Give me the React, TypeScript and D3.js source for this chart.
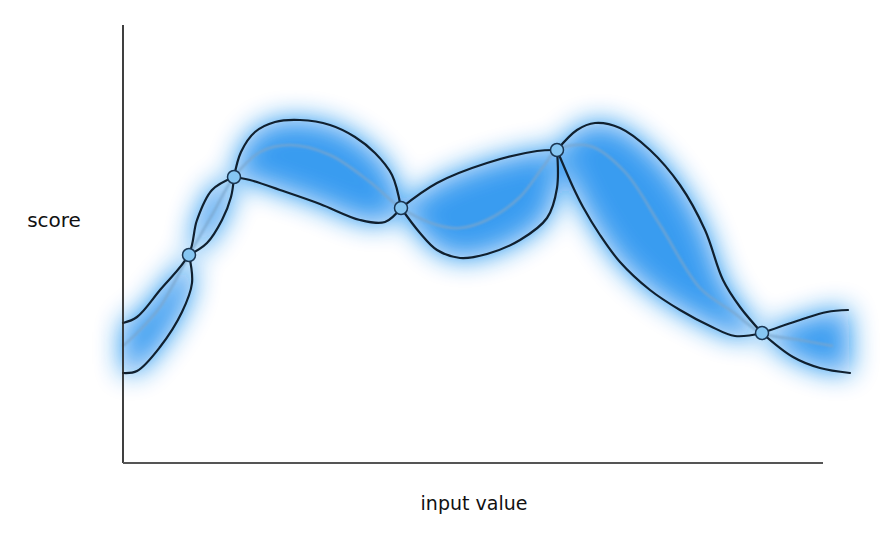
import * as d3 from "d3";

// observation points (input value, score)
const observed = [
  [66, 208],
  [111, 286],
  [278, 255],
  [434, 313],
  [639, 130],
];

// posterior mean
const meanLine = [
  [0, 117], [17, 133], [37, 156], [66, 208], [89, 248], [111, 286],
  [137, 311], [167, 318], [207, 308], [247, 281], [278, 255],
  [314, 238], [337, 235], [364, 243], [397, 266], [420, 296], [434, 313],
  [467, 317], [502, 291], [537, 238], [577, 175], [610, 151], [639, 130],
  [677, 123], [710, 117],
];

// upper confidence bound
const upperBound = [
  [0, 140], [14, 146], [37, 173], [66, 209],
  [74, 243], [89, 273], [111, 286],
  [118, 311], [132, 331], [152, 341], [177, 343], [207, 338], [232, 326], [252, 310], [269, 288], [278, 255],
  [314, 280], [364, 300], [414, 312], [434, 313],
  [454, 333], [472, 340], [497, 335], [527, 313], [557, 278], [582, 233], [600, 183], [617, 156], [639, 130],
  [677, 143], [704, 151], [725, 153],
];

// lower confidence bound
const lowerBound = [
  [0, 90], [14, 92], [37, 116], [59, 151], [69, 180], [66, 208],
  [84, 220], [99, 243], [108, 266], [111, 286],
  [127, 283], [157, 273], [197, 259], [237, 243], [262, 241], [278, 255],
  [297, 230], [314, 213], [337, 205], [364, 209], [397, 223], [424, 245], [434, 275], [434, 313],
  [450, 276], [460, 256], [477, 228], [497, 201], [527, 173], [557, 153], [587, 137], [612, 127], [639, 130],
  [670, 106], [697, 95], [727, 90],
];

const W = 889;
const H = 544;

const x = d3.scaleLinear().domain([0, 700]).range([123, 823]);
const y = d3.scaleLinear().domain([0, 438]).range([463, 25]);

const isKnot = (p) => observed.some((o) => o[0] === p[0] && o[1] === p[1]);

// split a curve into pieces that run from one observation to the next
function pieces(pts) {
  const out = [];
  let cur = [];
  pts.forEach((p, i) => {
    cur.push(p);
    if (isKnot(p) && i > 0 && i < pts.length - 1) {
      out.push(cur);
      cur = [p];
    }
  });
  out.push(cur);
  return out;
}

const line = d3
  .line()
  .x((d) => x(d[0]))
  .y((d) => y(d[1]))
  .curve(d3.curveCatmullRom.alpha(0.5));

function curvePath(pts) {
  return pieces(pts)
    .map((seg, i) => {
      const s = line(seg);
      return i === 0 ? s : s.replace(/^M/, "L");
    })
    .join("");
}

function reversedPath(pts) {
  const segs = pieces(pts).map((s) => s.slice().reverse()).reverse();
  return segs.map((seg) => line(seg).replace(/^M/, "L")).join("");
}

export default function App() {
  const upperD = curvePath(upperBound);
  const lowerD = curvePath(lowerBound);
  const bandD = upperD + reversedPath(lowerBound) + "Z";
  const meanD = line(meanLine);

  return (
    <svg
      width={W}
      height={H}
      viewBox={`0 0 ${W} ${H}`}
      style={{ position: "absolute", left: 0, top: 0, background: "#fff" }}
    >
      <defs>
        <filter id="glow" x="-20%" y="-50%" width="140%" height="200%">
          <feGaussianBlur stdDeviation="14" />
        </filter>
        <filter id="soft" x="-10%" y="-10%" width="120%" height="120%">
          <feGaussianBlur stdDeviation="1.2" />
        </filter>
      </defs>

      {/* band glow */}
      <path d={bandD} fill="#0f86ee" opacity={0.95} filter="url(#glow)" />
      <path d={bandD} fill="#b8dcf8" opacity={0.2} />

      {/* mean */}
      <path d={meanD} fill="none" stroke="#7aa6cc" strokeWidth={2.5} opacity={0.8} filter="url(#soft)" />

      {/* bounds */}
      <path d={upperD} fill="none" stroke="#10202f" strokeWidth={2.2} strokeLinejoin="round" strokeLinecap="round" />
      <path d={lowerD} fill="none" stroke="#10202f" strokeWidth={2.2} strokeLinejoin="round" strokeLinecap="round" />

      {/* observations */}
      {observed.map((d, i) => (
        <circle key={i} cx={x(d[0])} cy={y(d[1])} r={6.5} fill="#86c6f2" stroke="#1a3550" strokeWidth={1.5} />
      ))}

      {/* axes */}
      <line x1={x(0)} y1={y(0)} x2={x(0)} y2={y(438)} stroke="#2b2b2b" strokeWidth={1.8} />
      <line x1={x(0)} y1={y(0)} x2={x(700)} y2={y(0)} stroke="#555" strokeWidth={1.8} />

      <text x={54} y={227} textAnchor="middle" fontFamily="DejaVu Sans" fontSize={20} fill="#111">
        score
      </text>
      <text x={474} y={510} textAnchor="middle" fontFamily="DejaVu Sans" fontSize={19} fill="#111">
        input value
      </text>
    </svg>
  );
}
